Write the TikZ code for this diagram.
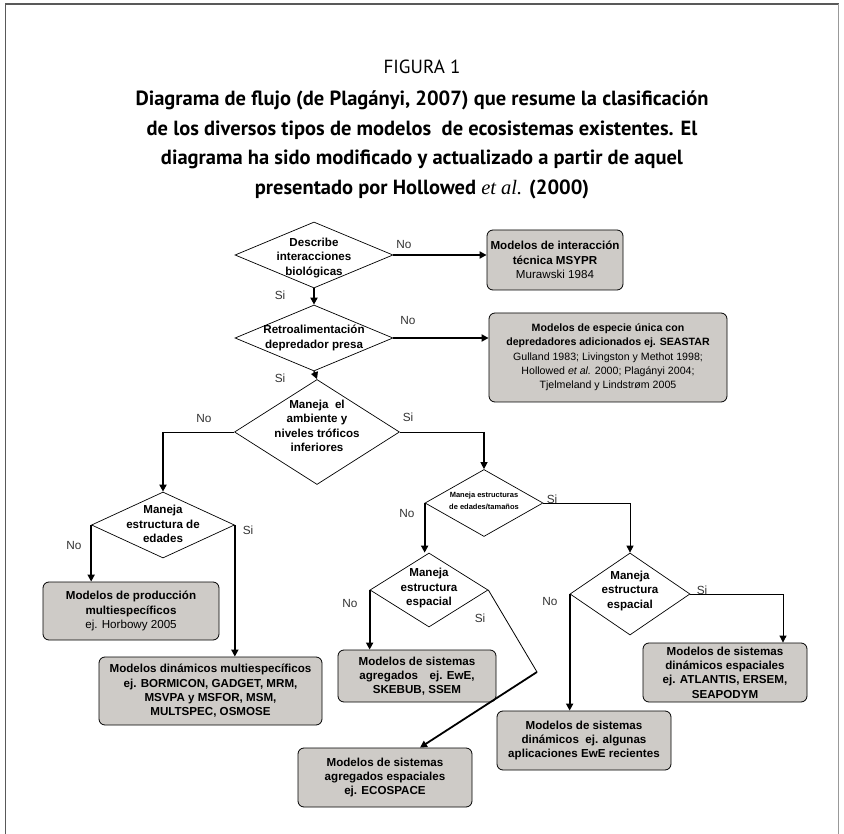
\documentclass[tikz,border=0pt]{standalone}
\usepackage{fontspec}
\setmainfont{Liberation Sans}
\newfontfamily\titlefont{PT Sans}
\newfontfamily\timesfont{Liberation Serif}
\usetikzlibrary{arrows.meta,shapes.geometric}
\tikzset {>={Triangle[length=7pt,width=7pt]}}
\definecolor{boxgray}{RGB}{206,203,199}

\begin{document}
\begin{tikzpicture}[x=1pt,y=-1pt,
  decision/.style={diamond,draw,inner sep=0pt,line width=0.7pt},
  qtext/.style={align=center,font=\bfseries\fontsize{11.6}{14.3}\selectfont},
  model/.style={draw,rounded corners=6pt,fill=boxgray,line width=0.8pt,align=center,
    inner sep=2pt,font=\bfseries\fontsize{11.6}{14.3}\selectfont},
  answer/.style={font=\fontsize{11.8}{13}\selectfont,text=black!80},
  thinline/.style={line width=0.8pt},
  flow/.style={->,line width=1.8pt}]
\useasboundingbox (0,0) rectangle (844,834);
\fill[white] (0,0) rectangle (844,834);
\draw[black!65,line width=1.3pt] (5.5,840) -- (5.5,4) -- (838.5,4);
\draw[black!40,line width=1.3pt] (838.5,4) -- (838.5,840);

\node[font=\titlefont\fontsize{19}{20}\selectfont] (fig) at (422,67) {FIGURA 1};
\node[align=center,font=\titlefont\bfseries\fontsize{20.5}{29.5}\selectfont] (title) at (422,145)
  {Diagrama de flujo (de Plagányi, 2007) que resume la clasificación\\
   de los diversos tipos de modelos~ de ecosistemas existentes. El\\
   diagrama ha sido modificado y actualizado a partir de aquel\\
   presentado por Hollowed {\timesfont\mdseries\itshape et al.} (2000)};

\node[decision,minimum width=158,minimum height=66] (d1) at (314,255) {};
\node[qtext] (d1text) at (314,258) {Describe\\interacciones\\biológicas};
\node[decision,minimum width=158,minimum height=66] (d2) at (314,338) {};
\node[qtext] (d2text) at (314,338) {Retroalimentación\\depredador presa};
\node[decision,minimum width=165,minimum height=105] (d3) at (317,432) {};
\node[qtext] (d3text) at (317,426) {Maneja~ el\\ambiente y\\niveles tróficos\\inferiores};
\node[decision,minimum width=143,minimum height=66] (d4) at (163,525) {};
\node[qtext] (d4text) at (163,524) {Maneja\\estructura de\\edades};
\node[decision,minimum width=118,minimum height=67] (d5) at (484,503) {};
\node[qtext,font=\bfseries\fontsize{7.5}{12}\selectfont] (d5text) at (484,501) {Maneja estructuras\\de edades/tamaños};
\node[decision,minimum width=118,minimum height=74] (d6) at (429,590) {};
\node[qtext] (d6text) at (429,588) {Maneja\\estructura\\espacial};
\node[decision,minimum width=120,minimum height=82] (d7) at (630,594) {};
\node[qtext] (d7text) at (630,591) {Maneja\\estructura\\espacial};

\node[model,minimum width=136,minimum height=60] (b1) at (555,260)
  {Modelos de interacción\\técnica MSYPR\\\mdseries Murawski 1984};
\node[model,minimum width=238,minimum height=89,font=\bfseries\fontsize{10.6}{14.3}\selectfont] (b2) at (608,357.5)
  {Modelos de especie única con\\depredadores adicionados ej. SEASTAR\\\mdseries
   Gulland 1983; Livingston y Methot 1998;\\\mdseries Hollowed \textit{et al.} 2000; Plagányi 2004;\\\mdseries
   Tjelmeland y Lindstrøm 2005};
\node[model,minimum width=176,minimum height=58] (b3) at (131,611)
  {Modelos de producción\\multiespecíficos\\\mdseries ej. Horbowy 2005};
\node[model,minimum width=223,minimum height=68] (b4) at (210.5,691)
  {Modelos dinámicos multiespecíficos\\ej. BORMICON, GADGET, MRM,\\MSVPA y MSFOR, MSM,\\MULTSPEC, OSMOSE};
\node[model,minimum width=158,minimum height=52] (b5) at (417,676)
  {Modelos de sistemas\\agregados\quad ej. EwE,\\SKEBUB, SSEM};
\node[model,minimum width=174,minimum height=59] (b6) at (584,740.5)
  {Modelos de sistemas\\dinámicos~ ej. algunas\\aplicaciones EwE recientes};
\node[model,minimum width=174,minimum height=59] (b7) at (385,777.5)
  {Modelos de sistemas\\agregados espaciales\\ej. ECOSPACE};
\node[model,minimum width=164,minimum height=59] (b8) at (725,672.5)
  {Modelos de sistemas\\dinámicos espaciales\\ej. ATLANTIS, ERSEM,\\SEAPODYM};

\node[answer] (no1) at (404,245) {No};
\node[answer] (si1) at (280,295) {Si};
\node[answer] (no2) at (408,321) {No};
\node[answer] (si2) at (280,378) {Si};
\node[answer] (no3) at (204,418) {No};
\node[answer] (si3) at (408,417) {Si};
\node[answer] (no4) at (74,545) {No};
\node[answer] (si4) at (248,530) {Si};
\node[answer] (no5) at (407,513) {No};
\node[answer] (si5) at (552,499) {Si};
\node[answer] (no6) at (350,603) {No};
\node[answer] (si6) at (480,618) {Si};
\node[answer] (no7) at (550,601) {No};
\node[answer] (si7) at (702,590) {Si};

\coordinate (bend6) at (537,672);
\coordinate (top7) at ([xshift=35pt]b7.north);
\coordinate (top8) at ([xshift=58pt]b8.north);

\draw[flow] (d1.east) -- (d1.east -| b1.west);
\draw[flow] (d1.south) -- (d2.north);
\draw[flow] (d2.east) -- (d2.east -| b2.west);
\draw[flow] (d2.south) -- (d3.north);
\draw[thinline] (d3.west) -- (d3.west -| d4.north);
\draw[flow] (d3.west -| d4.north) -- (d4.north);
\draw[thinline] (d3.east) -- (d3.east -| d5.north);
\draw[->,line width=1.3pt] (d3.east -| d5.north) -- (d5.north);
\draw[flow] (d4.west) -- (d4.west |- b3.north);
\draw[flow] (d4.east) -- (d4.east |- b4.north);
\draw[flow] (d5.west) -- (d5.west |- d6.north);
\draw[thinline] (d5.east) -- (d5.east -| d7.north);
\draw[->,thinline] (d5.east -| d7.north) -- (d7.north);
\draw[flow] (d6.west) -- (d6.west |- b5.north);
\draw[thinline] (d6.east) -- (bend6);
\draw[flow] (bend6) -- (top7);
\draw[flow] (d7.west) -- (d7.west |- b6.north);
\draw[thinline] (d7.east) -- (d7.east -| top8);
\draw[->,thinline] (d7.east -| top8) -- (top8);
\end{tikzpicture}
\end{document}
